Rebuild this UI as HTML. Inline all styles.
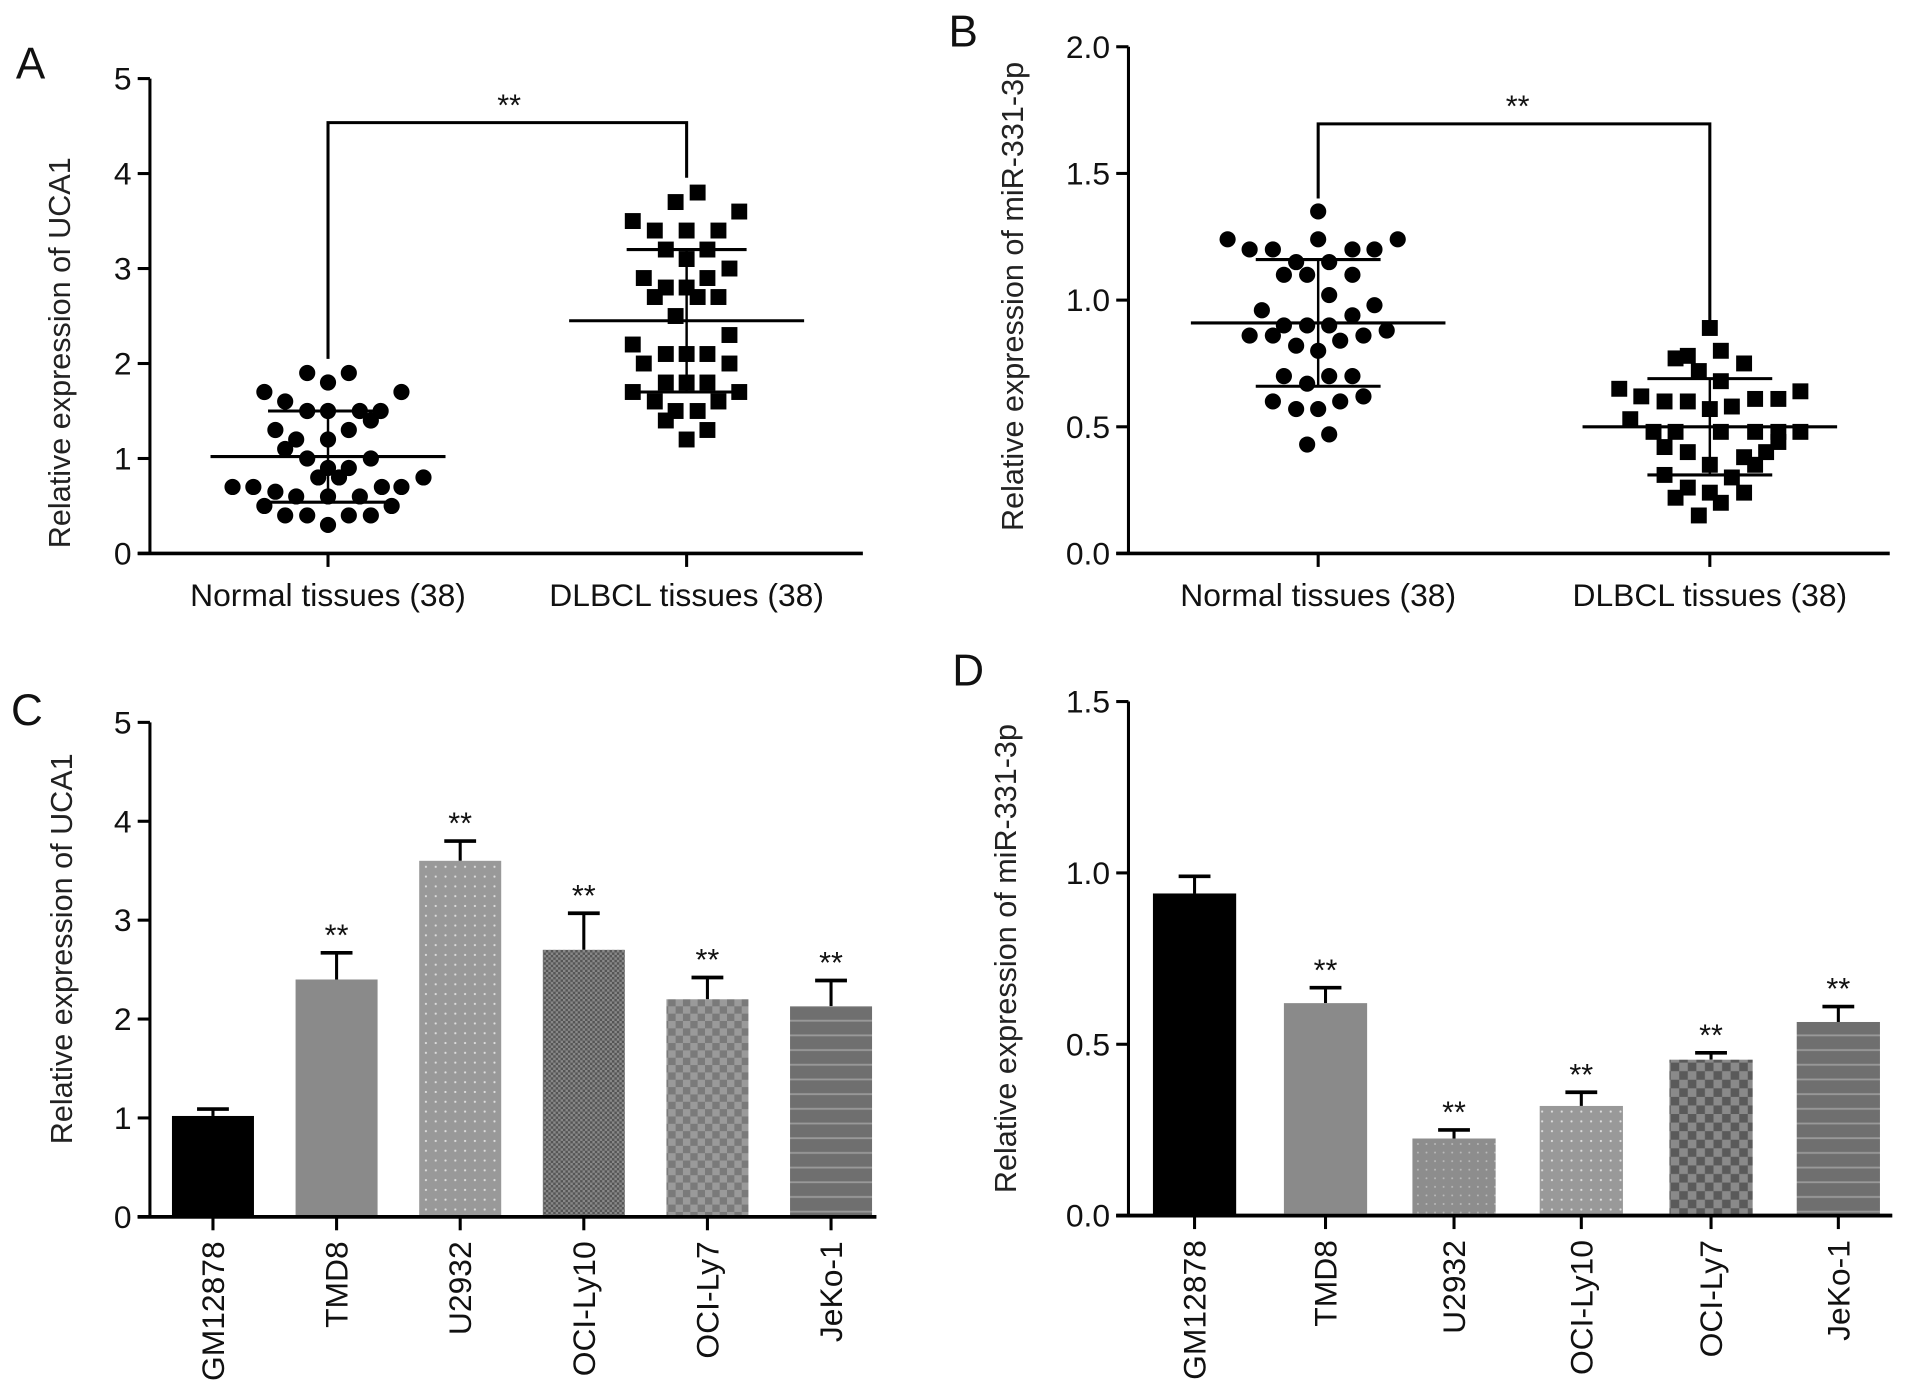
<!DOCTYPE html>
<html><head><meta charset="utf-8"><style>
html,body{margin:0;padding:0;background:#fff;}
svg{display:block;font-family:"Liberation Sans",Arial,sans-serif;}
</style></head><body>
<svg id="fig" width="1913" height="1397" viewBox="0 0 1563 1141" xmlns="http://www.w3.org/2000/svg">
<defs>
<pattern id="pDots" width="8" height="8" patternUnits="userSpaceOnUse"><rect width="8" height="8" fill="#999"/><circle cx="4" cy="4" r="0.9" fill="#ddd"/></pattern>
<pattern id="pCross" width="4" height="4" patternUnits="userSpaceOnUse"><rect width="4" height="4" fill="#555"/><rect width="2" height="2" fill="#888"/><rect x="2" y="2" width="2" height="2" fill="#888"/></pattern>
<pattern id="pCheck" width="12" height="12" patternUnits="userSpaceOnUse"><rect width="12" height="12" fill="#7a7a7a"/><rect width="6" height="6" fill="#9a9a9a"/><rect x="6" y="6" width="6" height="6" fill="#9a9a9a"/></pattern>
<pattern id="pStripe" width="8" height="12" patternUnits="userSpaceOnUse"><rect width="8" height="12" fill="#6f6f6f"/><rect y="5" width="8" height="1.5" fill="#999"/></pattern>
<pattern id="pDots2" width="7" height="7" patternUnits="userSpaceOnUse"><rect width="7" height="7" fill="#8d8d8d"/><circle cx="3.5" cy="3.5" r="0.8" fill="#bbb"/></pattern>
<pattern id="pCheck2" width="14" height="14" patternUnits="userSpaceOnUse"><rect width="14" height="14" fill="#5a5a5a"/><rect width="7" height="7" fill="#8a8a8a"/><rect x="7" y="7" width="7" height="7" fill="#8a8a8a"/></pattern>
</defs>
</svg>
<script>
// ---- Panel A data ----
const aCategories = ["Normal tissues (38)", "DLBCL tissues (38)"];
const aNormalVals = [1.9,1.9,1.8,1.7,1.7,1.6,1.5,1.5,1.5,1.5,1.4,1.3,1.3,1.2,1.2,1.1,1.0,1.0,0.9,0.9,0.8,0.8,0.8,0.7,0.7,0.65,0.7,0.7,0.6,0.6,0.6,0.5,0.5,0.4,0.4,0.4,0.4,0.3];
const aNormalJit = [-17,17,0,-52,60,-35,-17,0,26,43,35,-43,17,-26,0,-35,-17,35,0,17,-8,9,78,-78,-61,-43,44,60,-26,0,26,-52,52,-35,-17,17,35,0];
const aDlbclVals = [3.8,3.7,3.6,3.5,3.4,3.4,3.4,3.2,3.2,3.1,3.0,2.9,2.8,2.8,2.9,2.7,2.7,2.7,2.5,2.3,2.2,2.0,2.1,2.1,2.1,2.0,1.8,1.8,1.8,1.7,1.7,1.6,1.6,1.5,1.5,1.4,1.3,1.2];
const aDlbclJit = [9,-9,43,-44,-26,0,26,-17,17,0,35,-35,-17,0,17,-26,9,26,-9,35,-44,-35,-17,0,17,35,-17,0,17,-44,43,-26,26,-9,9,-17,17,0];
const aMeans = [1.02, 2.45];
const aSD = [0.48, 0.75];
const aTicks = [0,1,2,3,4,5];
// ---- Panel B data ----
const bNormalVals = [1.35,1.24,1.24,1.24,1.2,1.2,1.2,1.2,1.15,1.15,1.1,1.1,1.1,1.02,0.96,0.98,0.9,0.9,0.9,0.94,0.86,0.86,0.88,0.82,0.84,0.86,0.8,0.7,0.7,0.7,0.67,0.62,0.6,0.57,0.57,0.6,0.43,0.47];
const bNormalJit = [0,-74,0,65,-56,-37,28,46,-18,9,-28,-9,28,9,-46,46,-28,-9,9,28,-56,-37,56,-18,18,37,0,-28,9,28,-9,37,-37,-18,0,18,-9,9];
const bDlbclVals = [0.89,0.8,0.77,0.78,0.75,0.72,0.68,0.65,0.62,0.6,0.6,0.58,0.61,0.61,0.64,0.57,0.53,0.48,0.48,0.48,0.48,0.48,0.48,0.42,0.4,0.4,0.38,0.35,0.35,0.31,0.3,0.26,0.22,0.24,0.24,0.2,0.15,0.44];
const bDlbclJit = [0,9,-28,-18,28,-9,9,-74,-56,-37,-18,18,37,56,74,0,-65,-46,-28,9,37,56,74,-37,-18,46,28,0,37,-37,18,-18,-28,0,28,9,-9,56];
const bMeans = [0.91, 0.5];
const bSD = [0.25, 0.19];
const bTicks = ["0.0","0.5","1.0","1.5","2.0"];
// ---- Panel C data ----
const cCategories = ["GM12878","TMD8","U2932","OCI-Ly10","OCI-Ly7","JeKo-1"];
const cValues = [1.02, 2.4, 3.6, 2.7, 2.2, 2.13];
const cErrors = [0.07, 0.27, 0.2, 0.37, 0.22, 0.26];
const cSig = ["", "**", "**", "**", "**", "**"];
const cTicks = [0,1,2,3,4,5];
// ---- Panel D data ----
const dCategories = ["GM12878","TMD8","U2932","OCI-Ly10","OCI-Ly7","JeKo-1"];
const dValues = [0.94, 0.62, 0.225, 0.32, 0.455, 0.565];
const dErrors = [0.05, 0.045, 0.025, 0.04, 0.02, 0.045];
const dSig = ["", "**", "**", "**", "**", "**"];
const dTicks = ["0.0","0.5","1.0","1.5"];

const NS = "http://www.w3.org/2000/svg";
const svg = document.getElementById("fig");
function mk(tag, attrs, parent, text){
  const e = document.createElementNS(NS, tag);
  for (const k in attrs) e.setAttribute(k, attrs[k]);
  if (text !== undefined) e.textContent = text;
  (parent || svg).appendChild(e);
  return e;
}
function line(x1,y1,x2,y2,w,g){ return mk("line",{x1,y1,x2,y2,stroke:"#000","stroke-width":w||2.5},g); }

function axes(g, cfg){
  const {x0,y0,yTop,xEnd,ticks,yMax,title,titleX,titleY,letter,lx,ly} = cfg;
  const ys = v => y0 - (v/yMax)*(y0-yTop);
  const ax = line(x0, y0+1, x0, yTop, 2.5, g);
  
  
  const bx = line(x0-10, y0, xEnd, y0, 3, g);
  
  
  ticks.forEach(t => {
    const v = parseFloat(t);
    line(x0-10, ys(v), x0, ys(v), 2.5, g);
    const tl = mk("text",{x:x0-15,y:ys(v)+9,"text-anchor":"end","font-size":26,fill:"#111"},g,String(t));
    
    
  });
  const tt = mk("text",{x:titleX,y:titleY,"text-anchor":"middle","font-size":25,fill:"#222",transform:`rotate(-90 ${titleX} ${titleY})`},g,title);
  
  
  const lt = mk("text",{x:lx,y:ly,"font-size":36,fill:"#111"},g,letter);
  
  
  return ys;
}

function scatterPanel(name, cfg, normVals, normJit, dlVals, dlJit, means, sds, cx, bracketY, starX, starYs){
  const g = mk("g",{});
  
  
  const ys = axes(g, cfg);
  cx.forEach((c,i) => {
    line(c, cfg.y0, c, cfg.y0+11, 2.5, g);
    const t = mk("text",{x:c,y:cfg.y0+43,"text-anchor":"middle","font-size":26,fill:"#111"},g,aCategories[i]);
    
    
  });
  normVals.forEach((v,i)=>{
    const c = mk("circle",{cx:cx[0]+normJit[i],cy:ys(v),r:6.6,fill:"#000"},g);
    
    
  });
  dlVals.forEach((v,i)=>{
    const r = mk("rect",{x:cx[1]+dlJit[i]-6.5,y:ys(v)-6.5,width:13,height:13,fill:"#000"},g);
    
    
  });
  means.forEach((m,i)=>{
    const mw = cfg.meanHalf, sw = cfg.sdHalf;
    line(cx[i]-mw, ys(m), cx[i]+mw, ys(m), 2.5, g);
    line(cx[i]-sw, ys(m+sds[i]), cx[i]+sw, ys(m+sds[i]), 2.5, g);
    line(cx[i]-sw, ys(m-sds[i]), cx[i]+sw, ys(m-sds[i]), 2.5, g);
    line(cx[i], ys(m+sds[i]), cx[i], ys(m-sds[i]), 2, g);
  });
  const br = mk("path",{d:`M${cx[0]} ${starYs[0]} V${bracketY} H${cx[1]} V${starYs[1]}`,fill:"none",stroke:"#000","stroke-width":2.5},g);
  
  
  const st = mk("text",{x:starX,y:bracketY-6,"text-anchor":"middle","font-size":25,fill:"#111"},g,"**");
  
  
}

scatterPanel("panel-a",
  {x0:122.5,y0:452,yTop:64,xEnd:705,ticks:aTicks,yMax:5,title:"Relative expression of UCA1",titleX:57,titleY:288,letter:"A",lx:13,ly:64,meanHalf:96,sdHalf:49},
  aNormalVals,aNormalJit,aDlbclVals,aDlbclJit,aMeans,aSD,[268,561],100,416,[293,145]);
scatterPanel("panel-b",
  {x0:922,y0:452,yTop:38,xEnd:1544,ticks:bTicks,yMax:2,title:"Relative expression of miR-331-3p",titleX:836,titleY:242,letter:"B",lx:775,ly:38,meanHalf:104,sdHalf:51},
  bNormalVals,bNormalJit,bDlbclVals,bDlbclJit,bMeans,bSD,[1077,1397],101,1240,[162,263]);

function barPanel(name, cfg, cats, vals, errs, sig, cx, fills){
  const g = mk("g",{});
  
  
  const ys = axes(g, cfg);
  const bw = cfg.bw;
  vals.forEach((v,i)=>{
    const top = ys(v), e = ys(v+errs[i]);
    line(cx[i], top, cx[i], e, 2.5, g);
    line(cx[i]-13, e, cx[i]+13, e, 3, g);
    const r = mk("rect",{x:cx[i]-bw/2,y:top,width:bw,height:cfg.y0-top,fill:fills[i]},g);
    
    
    if (sig[i]) {
      const s = mk("text",{x:cx[i],y:e-6,"text-anchor":"middle","font-size":25,fill:"#111"},g,sig[i]);
      
      
    }
    line(cx[i], cfg.y0, cx[i], cfg.y0+11, 2.5, g);
    const tx = cx[i]+9, ty = cfg.y0+20;
    const t = mk("text",{x:tx,y:ty,"text-anchor":"end","font-size":26,fill:"#111",transform:`rotate(-90 ${tx} ${ty})`},g,cats[i]);
    
    
  });
  line(cfg.x0-10, cfg.y0, cfg.xEnd, cfg.y0, 3, g);
}
barPanel("panel-c",
  {x0:122.5,y0:994,yTop:590,xEnd:716,ticks:cTicks,yMax:5,title:"Relative expression of UCA1",titleX:59,titleY:775,letter:"C",lx:9,ly:592,bw:67},
  cCategories,cValues,cErrors,cSig,[174,275,376,477,578,679],["#000","#8a8a8a","url(#pDots)","url(#pCross)","url(#pCheck)","url(#pStripe)"]);
barPanel("panel-d",
  {x0:922,y0:993,yTop:573,xEnd:1546,ticks:dTicks,yMax:1.5,title:"Relative expression of miR-331-3p",titleX:830,titleY:783,letter:"D",lx:778,ly:560,bw:68},
  dCategories,dValues,dErrors,dSig,[976,1083,1188,1292,1398,1502],["#000","#8a8a8a","url(#pDots2)","url(#pDots)","url(#pCheck2)","url(#pStripe)"]);
</script>
</body></html>
